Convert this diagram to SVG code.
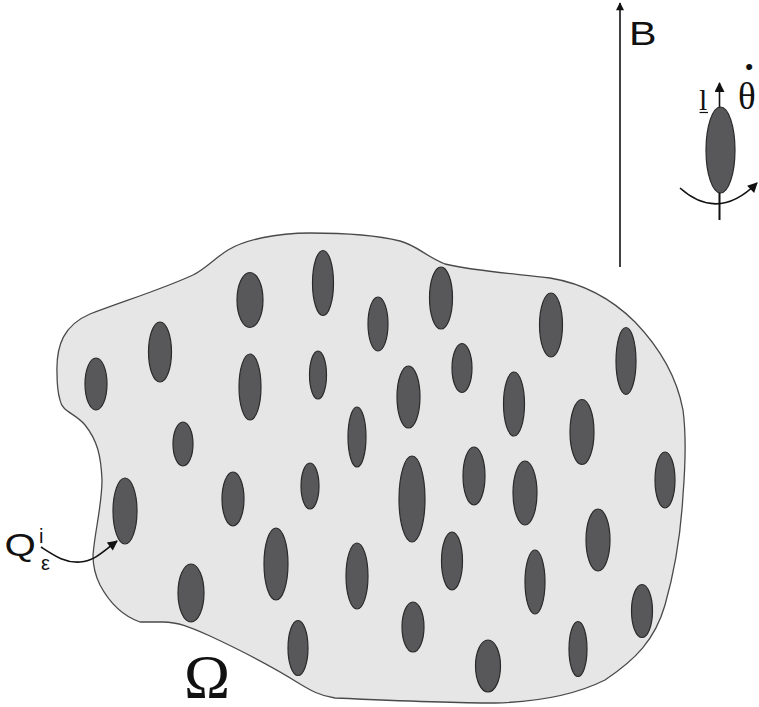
<svg xmlns="http://www.w3.org/2000/svg" width="759" height="707" viewBox="0 0 759 707">
<defs>
<style>
.blob{fill:#e6e6e6;stroke:#4a4a4a;stroke-width:1.3}
.inc{fill:#58585a;stroke:#2a2a2a;stroke-width:1.2}
.ln{fill:none;stroke:#111;stroke-width:1.6}
.sans{font-family:"Liberation Sans",Arial,sans-serif;fill:#111}
.serif{font-family:"Liberation Serif","Times New Roman",serif;fill:#111}
</style>
<marker id="ahB" viewBox="0 0 10 10" refX="9" refY="5" markerWidth="13" markerHeight="8" orient="auto" markerUnits="userSpaceOnUse">
<path d="M0,0 L10,5 L0,10 z" fill="#111"/>
</marker>
<marker id="ah" viewBox="0 0 10 10" refX="9" refY="5" markerWidth="12" markerHeight="10" orient="auto" markerUnits="userSpaceOnUse">
<path d="M0,0 L10,5 L0,10 z" fill="#111"/>
</marker>
</defs>
<rect width="759" height="707" fill="#fff"/>
<g id="domain">
<path class="blob" d="M57,373 C56,345 64,325 90,314 C130,299 165,288 193,275 C205,269 215,258 228,250 C245,240 275,233 310,233 C345,233 380,236 400,241 C418,246 425,256 445,264 C480,272 520,274 550,278 C580,283 610,297 635,322 C660,348 677,378 683,410 C687,440 685,470 683,495 C681,530 675,570 665,605 C655,640 635,660 605,680 C575,695 535,702 495,703 C450,703 380,700 335,698 C320,696 310,690 300,684 C275,668 240,650 210,636 C190,627 178,622 163,622 L140,622 C120,615 108,600 100,585 C94,573 93,565 93,555 C95,530 102,505 102,480 C101,455 97,440 85,425 C75,413 62,412 60,400 C57,390 57,380 57,373 Z"/>
</g>
<g id="inclusions">
<ellipse class="inc" cx="96" cy="384" rx="11" ry="26"/>
<ellipse class="inc" cx="160" cy="352" rx="11.5" ry="30"/>
<ellipse class="inc" cx="250" cy="300" rx="13" ry="27.5"/>
<ellipse class="inc" cx="323" cy="283" rx="10.5" ry="32.5"/>
<ellipse class="inc" cx="378" cy="324" rx="10" ry="27"/>
<ellipse class="inc" cx="441" cy="298" rx="11.5" ry="31"/>
<ellipse class="inc" cx="551" cy="325" rx="11.5" ry="32"/>
<ellipse class="inc" cx="626" cy="361" rx="10" ry="33.5"/>
<ellipse class="inc" cx="250" cy="387" rx="11" ry="33"/>
<ellipse class="inc" cx="318" cy="375" rx="8.5" ry="24"/>
<ellipse class="inc" cx="408.5" cy="397" rx="11.5" ry="31"/>
<ellipse class="inc" cx="462" cy="368" rx="10" ry="24.5"/>
<ellipse class="inc" cx="514" cy="404" rx="10.5" ry="32"/>
<ellipse class="inc" cx="582" cy="432" rx="12" ry="32.5"/>
<ellipse class="inc" cx="183" cy="444" rx="10" ry="22"/>
<ellipse class="inc" cx="357" cy="437" rx="9" ry="30"/>
<ellipse class="inc" cx="665" cy="480" rx="10" ry="28"/>
<ellipse class="inc" cx="125" cy="511" rx="12" ry="33"/>
<ellipse class="inc" cx="233" cy="499" rx="11" ry="27"/>
<ellipse class="inc" cx="310" cy="486" rx="9" ry="23"/>
<ellipse class="inc" cx="412" cy="499" rx="13" ry="43"/>
<ellipse class="inc" cx="474" cy="476" rx="11" ry="29"/>
<ellipse class="inc" cx="525" cy="493" rx="12" ry="32"/>
<ellipse class="inc" cx="598" cy="540" rx="12" ry="31"/>
<ellipse class="inc" cx="276" cy="564" rx="12" ry="36"/>
<ellipse class="inc" cx="357" cy="576" rx="11" ry="33"/>
<ellipse class="inc" cx="452" cy="561" rx="10.5" ry="29"/>
<ellipse class="inc" cx="535" cy="582" rx="10" ry="32"/>
<ellipse class="inc" cx="191" cy="593" rx="13" ry="29"/>
<ellipse class="inc" cx="298" cy="648" rx="10" ry="27.5"/>
<ellipse class="inc" cx="413" cy="627" rx="11" ry="25"/>
<ellipse class="inc" cx="488" cy="666" rx="12.5" ry="26"/>
<ellipse class="inc" cx="578" cy="649" rx="9" ry="27.5"/>
<ellipse class="inc" cx="642" cy="611" rx="10.5" ry="26.5"/>
</g>
<g id="connectors">
<line class="ln" x1="620" y1="267" x2="620" y2="3" stroke-width="2" marker-end="url(#ahB)"/>
<line class="ln" x1="719.5" y1="220" x2="719.5" y2="83" marker-end="url(#ah)"/>
<path class="ln" d="M680,188 Q718,222 757,183" marker-end="url(#ah)"/>
<path class="ln" d="M41,547 C55,556 65,563 80,562 C95,561 105,550 117,541" marker-end="url(#ah)"/>
</g>
<g id="particle">
<ellipse class="inc" cx="720.5" cy="150" rx="14.5" ry="43"/>
<line x1="719.5" y1="193" x2="719.5" y2="220" stroke="#111" stroke-width="1.6"/>
</g>
<g id="labels">
<text class="sans" font-size="33" transform="translate(629,45) scale(1.25,1)">B</text>
<text class="serif" font-size="30" x="699" y="110">l</text>
<line x1="699.5" y1="112.5" x2="708" y2="112.5" stroke="#111" stroke-width="1.2"/>
<text class="serif" font-size="37" x="738" y="109">θ<tspan x="742.5" y="92" font-size="40" font-weight="bold">˙</tspan></text>
<text class="sans" font-size="31" transform="translate(4.5,556) scale(1.3,1)">Q</text>
<text class="sans" font-size="20" x="39" y="543">i</text>
<text class="sans" font-size="20" x="41" y="570">ε</text>
<text class="serif" font-size="62" x="184" y="697">Ω</text>
</g>
</svg>
